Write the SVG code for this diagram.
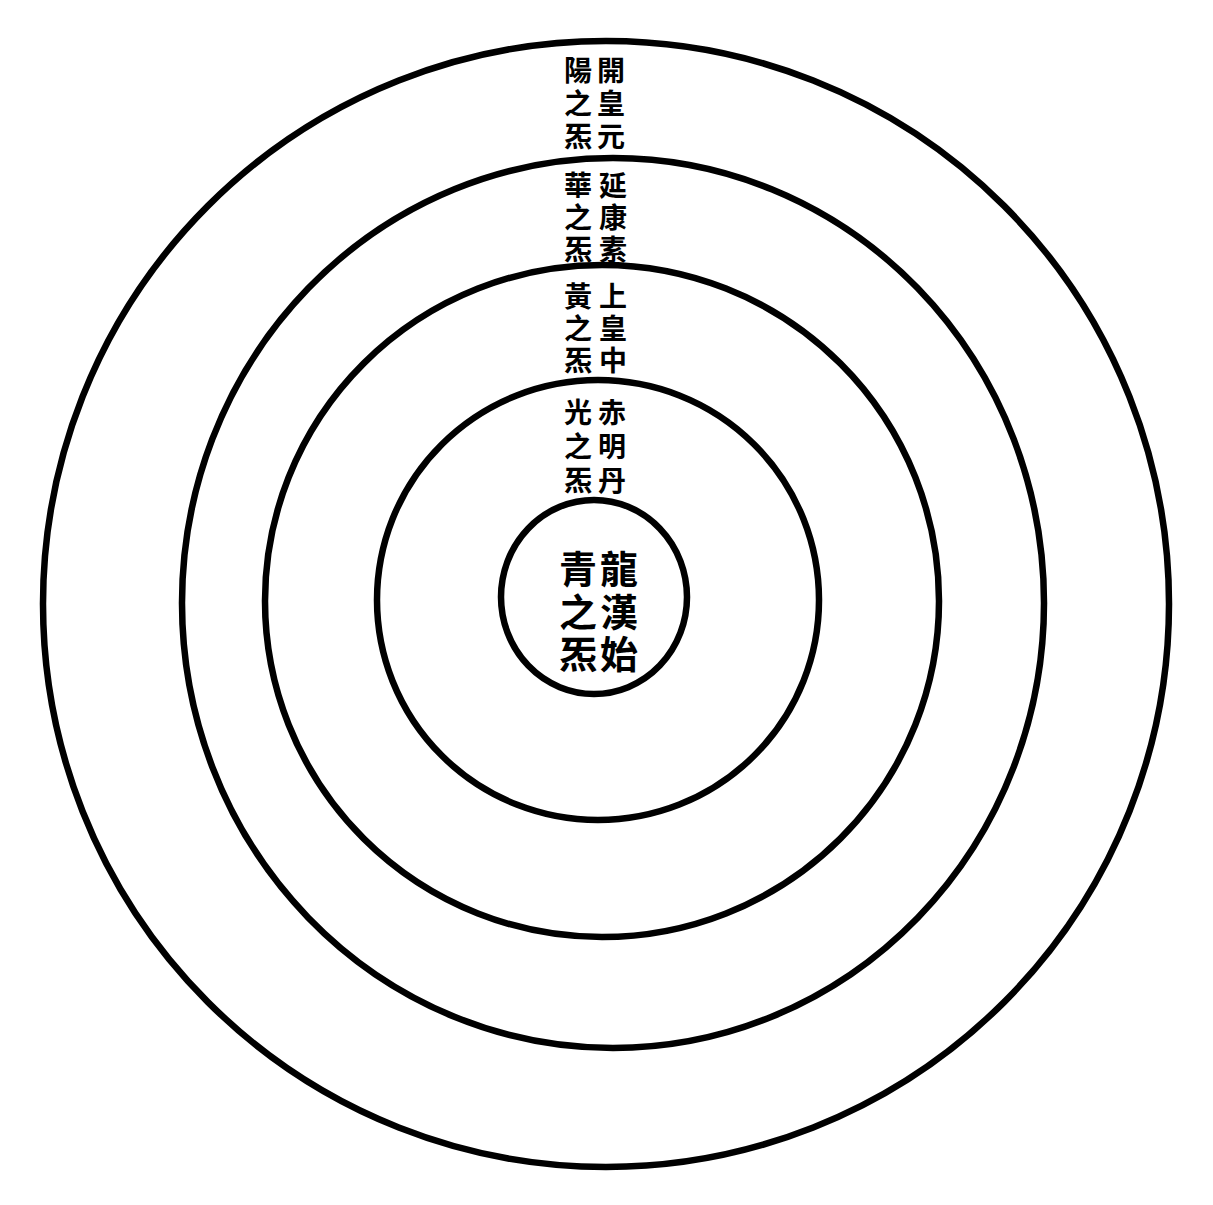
<svg xmlns="http://www.w3.org/2000/svg" width="1213" height="1205" viewBox="0 0 1213 1205">
<style>
.ring{fill:none;stroke:#000;stroke-width:6.5}
.t{font-family:"Noto Sans CJK TC","Noto Sans CJK SC",sans-serif;font-size:28px;font-weight:700;fill:#000;text-anchor:middle;dominant-baseline:central}
.b{font-size:38px}
</style>
<rect width="1213" height="1205" fill="#fff"/>
<g id="rings">
<ellipse id="ring1" class="ring" cx="606" cy="604" rx="563" ry="563"/>
<ellipse id="ring2" class="ring" cx="613" cy="603" rx="431" ry="445"/>
<ellipse id="ring3" class="ring" cx="602" cy="601" rx="337" ry="336"/>
<ellipse id="ring4" class="ring" cx="598" cy="600" rx="221" ry="220"/>
<ellipse id="ring5" class="ring" cx="594" cy="597" rx="93" ry="97"/>
</g>
<g id="label1">
<text class="t" x="611" y="69">開</text><text class="t" x="611" y="102">皇</text><text class="t" x="611" y="135">元</text>
<text class="t" x="578" y="69">陽</text><text class="t" x="578" y="102">之</text><text class="t" x="578" y="135">炁</text>
</g>
<g id="label2">
<text class="t" x="613" y="184">延</text><text class="t" x="613" y="216">康</text><text class="t" x="613" y="248">素</text>
<text class="t" x="578" y="184">華</text><text class="t" x="578" y="216">之</text><text class="t" x="578" y="248">炁</text>
</g>
<g id="label3">
<text class="t" x="613" y="295">上</text><text class="t" x="613" y="327">皇</text><text class="t" x="613" y="359">中</text>
<text class="t" x="578" y="295">黃</text><text class="t" x="578" y="327">之</text><text class="t" x="578" y="359">炁</text>
</g>
<g id="label4">
<text class="t" x="612" y="411">赤</text><text class="t" x="612" y="445">明</text><text class="t" x="612" y="479">丹</text>
<text class="t" x="578" y="411">光</text><text class="t" x="578" y="445">之</text><text class="t" x="578" y="479">炁</text>
</g>
<g id="label5">
<text class="t b" x="619" y="566">龍</text><text class="t b" x="619" y="609">漢</text><text class="t b" x="619" y="651">始</text>
<text class="t b" x="578" y="566">青</text><text class="t b" x="578" y="609">之</text><text class="t b" x="578" y="651">炁</text>
</g>
</svg>
